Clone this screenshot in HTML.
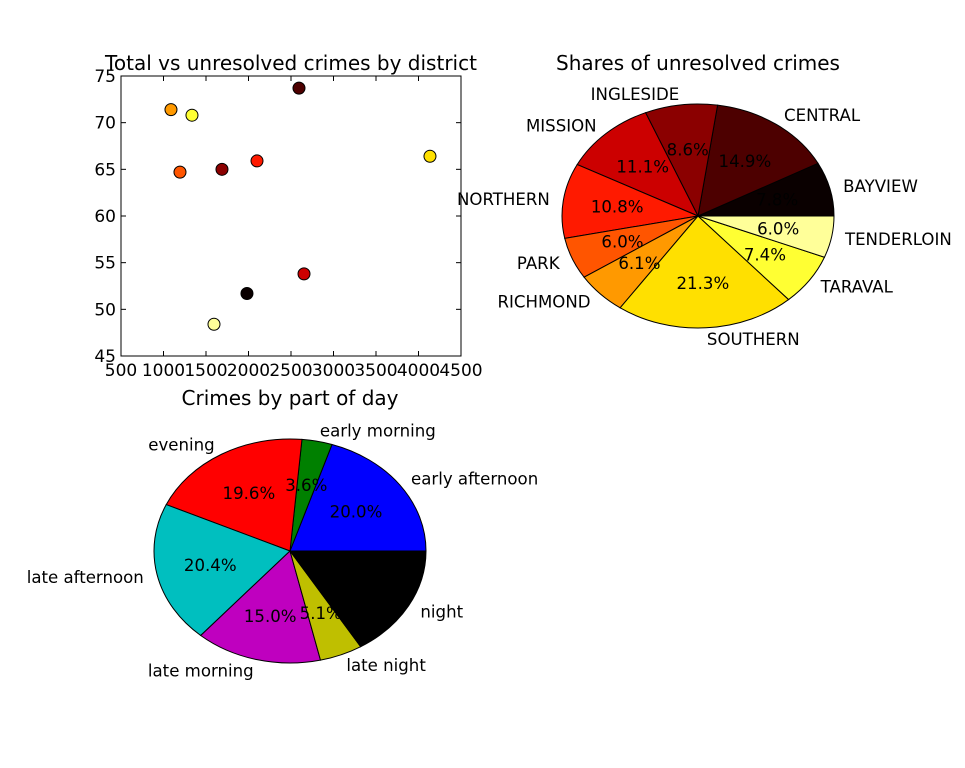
<!DOCTYPE html>
<html><head><meta charset="utf-8"><style>
body{margin:0;background:#fff;}
svg{display:block;font-family:"DejaVu Sans","Liberation Sans",sans-serif;}
</style></head><body>
<svg id="c" width="965" height="768" viewBox="0 0 965 768"></svg>
<script>
const districts=["BAYVIEW","CENTRAL","INGLESIDE","MISSION","NORTHERN","PARK","RICHMOND","SOUTHERN","TARAVAL","TENDERLOIN"];
const districtColors=["#0a0000","#4d0000","#8b0000","#cc0000","#ff1a00","#ff5500","#ff9900","#ffe000","#ffff33","#ffff99"];
const totalCrimes=[1982,2594,1688,2653,2100,1194,1088,4135,1335,1594];
const unresolvedPct=[51.7,73.7,65.0,53.8,65.9,64.7,71.4,66.4,70.8,48.4];
const unresolvedShares=[7.8,14.9,8.6,11.1,10.8,6.0,6.1,21.3,7.4,6.0];
const xTicks=[500,1000,1500,2000,2500,3000,3500,4000,4500];
const yTicks=[45,50,55,60,65,70,75];
const parts=["early afternoon","early morning","evening","late afternoon","late morning","late night","night"];
const partColors=["#0000ff","#008000","#ff0000","#00bfbf","#bf00bf","#bfbf00","#000000"];
const partShares=[20.0,3.6,19.6,20.4,15.0,5.1,16.3];

const NS="http://www.w3.org/2000/svg";
const svg=document.getElementById('c');
function mk(tag,attrs,parent,text){const e=document.createElementNS(NS,tag);for(const k in attrs)e.setAttribute(k,attrs[k]);if(text!==undefined)e.textContent=text;(parent||svg).appendChild(e);return e;}

const L=121,R=461,T=76,B=356;
const xs=v=>L+(v-500)/4000*(R-L);
const ys=v=>B-(v-45)/30*(B-T);
const sg=mk('g',{});


let t=mk('text',{x:291,y:70,'text-anchor':'middle','font-size':20},sg,'Total vs unresolved crimes by district');

xTicks.forEach(v=>{const x=xs(v);
 mk('line',{x1:x,y1:B,x2:x,y2:B-5,stroke:'#000'},sg);mk('line',{x1:x,y1:T,x2:x,y2:T+5,stroke:'#000'},sg);
 const e=mk('text',{x:x,y:B+20,'text-anchor':'middle','font-size':17},sg,String(v));
 });
yTicks.forEach(v=>{const y=ys(v);
 mk('line',{x1:L,y1:y,x2:L+5,y2:y,stroke:'#000'},sg);mk('line',{x1:R,y1:y,x2:R-5,y2:y,stroke:'#000'},sg);
 const e=mk('text',{x:L-5,y:y+6,'text-anchor':'end','font-size':17},sg,String(v));
 });
districts.forEach((d,i)=>{const c=mk('circle',{cx:xs(totalCrimes[i]),cy:ys(unresolvedPct[i]),r:6,fill:districtColors[i],stroke:'#000','stroke-width':1},sg);
 });
mk('rect',{x:L,y:T,width:R-L,height:B-T,fill:'none',stroke:'#000','stroke-width':1},sg);

function pie(cx,cy,rx,ry,labels,colors,vals,title,ty,name){
 const g=mk('g',{});
 const tt=mk('text',{x:cx,y:ty,'text-anchor':'middle','font-size':20},g,title);
 
 const tot=vals.reduce((a,b)=>a+b,0);let a0=0;const txt=[];
 vals.forEach((v,i)=>{const a1=a0+v/tot*2*Math.PI;
  const p=(a)=>[cx+rx*Math.cos(a),cy-ry*Math.sin(a)];
  const [x0,y0]=p(a0),[x1,y1]=p(a1);const large=(a1-a0)>Math.PI?1:0;
  const w=mk('path',{d:`M${cx},${cy}L${x0},${y0}A${rx},${ry} 0 ${large} 0 ${x1},${y1}Z`,fill:colors[i],stroke:'#000','stroke-width':1},g);
  
  const am=(a0+a1)/2,c=Math.cos(am),s=Math.sin(am);
  txt.push([cx+1.1*rx*c,cy-1.1*ry*s,c>=0?'start':'end',labels[i],'label']);
  txt.push([cx+0.6*rx*c,cy-0.6*ry*s,'middle',v.toFixed(1)+'%','pct']);
  a0=a1;});
 txt.forEach(q=>{const e=mk('text',{x:q[0],y:q[1]+6,'text-anchor':q[2],'font-size':16.6},g,q[3]);
  });
}
pie(698,216,136,112,districts,districtColors,unresolvedShares,'Shares of unresolved crimes',70,'district-pie');
pie(290,551,136,112,parts,partColors,partShares,'Crimes by part of day',405,'part-of-day-pie');
</script>
</body></html>
